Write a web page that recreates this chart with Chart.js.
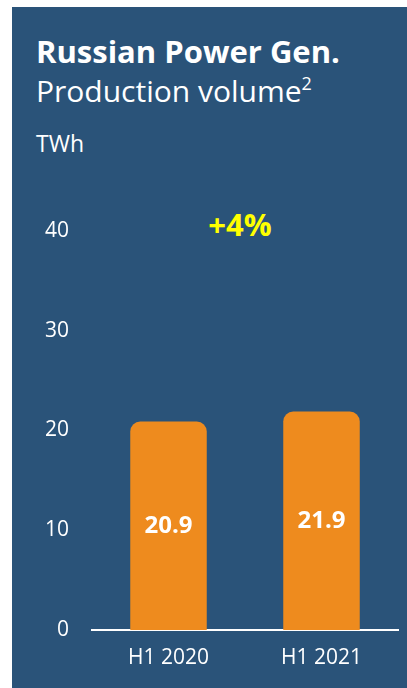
<!DOCTYPE html>
<html>
<head>
<meta charset="utf-8">
<script src="https://cdn.jsdelivr.net/npm/chart.js@4.4.0/dist/chart.umd.min.js"></script>
<style>
  html, body { margin: 0; padding: 0; background: #fff; }
  body { width: 407px; height: 688px; position: relative; overflow: hidden; font-family: "Open Sans", sans-serif; }
  #panel { position: absolute; left: 12px; top: 7px; right: 0; bottom: 0; background: #2A5379; }
  #titulo { position: absolute; left: 36px; top: 31px; color: #fff; font-weight: 700; font-size: 31px; line-height: 40px; white-space: nowrap; }
  #subtitulo { position: absolute; left: 36px; top: 71px; color: #fff; font-size: 30px; line-height: 40px; white-space: nowrap; }
  #subtitulo sup { font-size: 18px; vertical-align: 0; position: relative; top: -12px; }
  #unidade { position: absolute; left: 36px; top: 128px; color: #fff; font-size: 23px; line-height: 30px; }
  #variacao { position: absolute; left: 190px; width: 100px; text-align: center; top: 204px; color: #FFFF00; font-weight: 700; font-size: 31px; line-height: 40px; }
  canvas { position: absolute; left: 0; top: 0; }
</style>
</head>
<body>
<div id="panel"></div>
<div id="titulo">Russian Power Gen.</div>
<div id="subtitulo">Production volume<sup>2</sup></div>
<div id="unidade">TWh</div>
<div id="variacao">+4%</div>
<canvas id="graficoProducao" width="407" height="688"></canvas>
<script>
// Dados do gráfico
const categorias = ['H1 2020', 'H1 2021'];
const producao = [20.9, 21.9];
const ticksY = [0, 10, 20, 30, 40];

// Rótulos de valor no meio das barras
const rotulosBarras = {
    id: 'rotulosBarras',
    afterDatasetsDraw(chart) {
        const ctx = chart.ctx;
        const meta = chart.getDatasetMeta(0);
        ctx.save();
        ctx.fillStyle = '#ffffff';
        ctx.font = 'bold 24px "Open Sans"';
        ctx.textAlign = 'center';
        ctx.textBaseline = 'middle';
        meta.data.forEach((barra, i) => {
            const meio = (barra.y + barra.base) / 2;
            ctx.fillText(producao[i].toFixed(1), barra.x, meio);
        });
        ctx.restore();
    }
};

new Chart(document.getElementById('graficoProducao').getContext('2d'), {
    type: 'bar',
    data: {
        labels: categorias,
        datasets: [{
            data: producao,
            backgroundColor: '#EE8B1E',
            borderRadius: 10,
            borderSkipped: 'start',
            barPercentage: 0.5,
            categoryPercentage: 1
        }]
    },
    options: {
        responsive: false,
        animation: false,
        layout: { padding: { left: 0, right: 9, top: 231, bottom: 0 } },
        plugins: { legend: { display: false }, tooltip: { enabled: false } },
        scales: {
            x: {
                grid: { display: false, drawTicks: false },
                border: { display: true, color: '#ffffff', width: 2 },
                ticks: { color: '#ffffff', font: { family: 'Open Sans', size: 21 }, padding: 15 },
                afterFit: function(scale) { scale.height = 58; }
            },
            y: {
                min: 0,
                max: 40,
                afterBuildTicks: function(scale) { scale.ticks = ticksY.map(v => ({ value: v })); },
                grid: { display: false, drawTicks: false },
                border: { display: false },
                ticks: { color: '#ffffff', font: { family: 'Open Sans', size: 21 }, padding: 23 },
                afterFit: function(scale) { scale.width = 92; }
            }
        }
    },
    plugins: [rotulosBarras]
});
</script>
</body>
</html>
